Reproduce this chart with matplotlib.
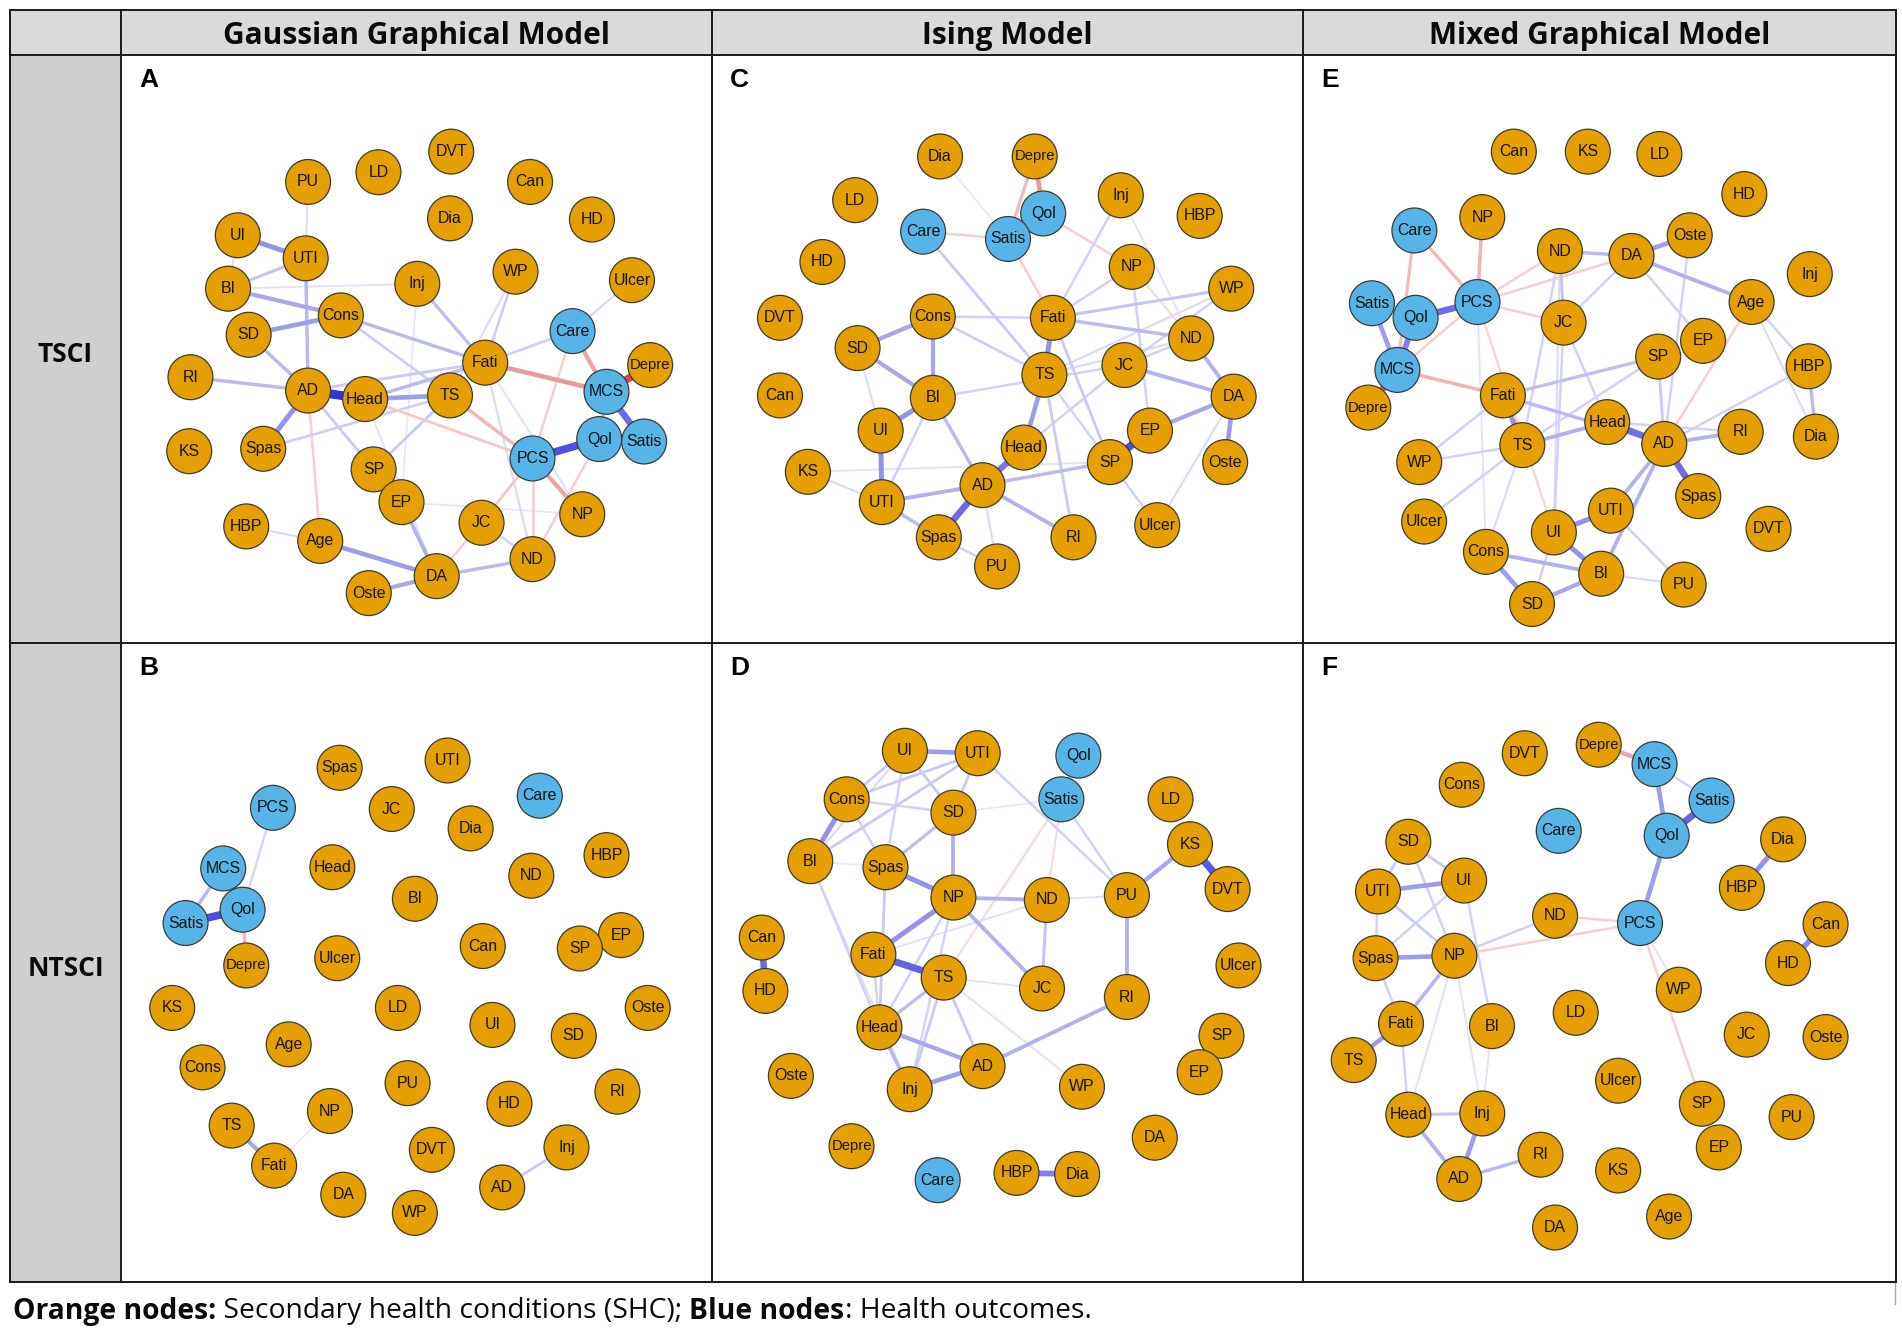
import matplotlib
matplotlib.use('Agg')
import matplotlib.pyplot as plt
import matplotlib.colors as mcolors
from matplotlib.patches import Circle, Rectangle
from matplotlib.textpath import TextPath
from matplotlib.font_manager import FontProperties

# ---- data: node layouts (reference pixel space) and edge weights ----
outcomes = ['Care', 'MCS', 'PCS', 'Qol', 'Satis']

col_titles = ['Gaussian Graphical Model', 'Ising Model', 'Mixed Graphical Model']
row_titles = ['TSCI', 'NTSCI']
panel_letters = ['A', 'C', 'E', 'B', 'D', 'F']

names_a = ['PU', 'LD', 'DVT', 'Can', 'Dia', 'HD', 'UI', 'UTI', 'BI', 'Inj', 'WP', 'Ulcer',
           'SD', 'Cons', 'Care', 'RI', 'Fati', 'Depre', 'AD', 'Head', 'TS', 'MCS', 'KS', 'Spas',
           'Qol', 'Satis', 'PCS', 'SP', 'EP', 'JC', 'NP', 'HBP', 'Age', 'DA', 'ND', 'Oste']
x_a = [254, 312, 372, 437, 371, 488, 196, 252, 188, 344, 425, 521,
       205, 281, 472, 157, 400, 536, 254, 301, 371, 500, 156, 217,
       494, 531, 439, 308, 331, 397, 480, 203, 264, 360, 439, 304]
y_a = [150, 142, 125, 150, 180, 181, 194, 213, 238, 234, 224, 231,
       276, 260, 273, 311, 299, 301, 322, 329, 326, 323, 372, 370,
       362, 364, 378, 387, 414, 431, 424, 434, 446, 475, 461, 489]
edges_a = [
    ('AD', 'Head', 1.0), ('PCS', 'Qol', 0.85), ('MCS', 'Satis', 0.7), ('MCS', 'Depre', -0.85),
    ('UI', 'UTI', 0.5), ('AD', 'Spas', 0.5), ('SD', 'Cons', 0.45), ('BI', 'Cons', 0.4),
    ('Head', 'TS', 0.45), ('Fati', 'MCS', -0.45), ('MCS', 'Care', -0.4), ('PCS', 'NP', -0.4),
    ('TS', 'PCS', -0.3), ('Age', 'DA', 0.45), ('Oste', 'DA', 0.4), ('DA', 'EP', 0.35),
    ('DA', 'ND', 0.3), ('RI', 'AD', 0.3), ('SD', 'AD', 0.3), ('UTI', 'AD', 0.3),
    ('PU', 'UTI', 0.12), ('BI', 'UTI', 0.25), ('UI', 'BI', 0.12), ('BI', 'Inj', 0.1),
    ('Cons', 'Fati', 0.3), ('Cons', 'TS', 0.2), ('Inj', 'Fati', 0.28), ('WP', 'Fati', 0.2),
    ('WP', 'TS', 0.12), ('Ulcer', 'Care', 0.15), ('Care', 'Fati', 0.2), ('Care', 'PCS', -0.18),
    ('Head', 'Fati', 0.3), ('AD', 'Fati', 0.22), ('Spas', 'TS', 0.2), ('AD', 'SP', 0.22),
    ('TS', 'SP', 0.22), ('Head', 'PCS', -0.22), ('AD', 'Age', -0.18), ('HBP', 'Age', 0.13),
    ('JC', 'PCS', -0.22), ('DA', 'JC', -0.18), ('ND', 'PCS', -0.18), ('ND', 'Qol', -0.18),
    ('ND', 'JC', 0.18), ('Fati', 'ND', 0.13), ('Fati', 'NP', 0.1), ('Inj', 'EP', 0.08),
    ('Head', 'DA', 0.1), ('EP', 'NP', 0.08), ('MCS', 'Qol', 0.3), ('Qol', 'Satis', 0.3),
]

names_c = ['Dia', 'Depre', 'LD', 'Qol', 'Inj', 'HBP', 'Care', 'Satis', 'HD', 'NP', 'WP',
           'DVT', 'Cons', 'Fati', 'ND', 'SD', 'JC', 'TS', 'Can', 'BI', 'DA', 'UI', 'EP',
           'Head', 'Oste', 'KS', 'SP', 'AD', 'UTI', 'Ulcer', 'Spas', 'RI', 'PU']
x_c = [775, 853, 705, 860, 924, 989, 761, 831, 678, 933, 1015,
       643, 769, 868, 982, 707, 927, 861, 643, 769, 1017, 726, 948,
       844, 1010, 666, 915, 810, 727, 954, 774, 885, 822]
y_c = [129, 129, 165, 176, 161, 178, 191, 197, 216, 220, 238,
       262, 261, 262, 279, 287, 301, 309, 326, 328, 327, 355, 355,
       369, 381, 389, 381, 400, 414, 433, 443, 443, 467]
edges_c = [
    ('AD', 'Spas', 0.7), ('AD', 'Head', 0.65), ('SP', 'EP', 0.85), ('UI', 'UTI', 0.5),
    ('UI', 'BI', 0.5), ('Fati', 'TS', 0.5), ('TS', 'Head', 0.45), ('SD', 'Cons', 0.4),
    ('SD', 'BI', 0.4), ('Cons', 'BI', 0.4), ('EP', 'DA', 0.4), ('DA', 'Oste', 0.45),
    ('ND', 'DA', 0.35), ('JC', 'DA', 0.35), ('Fati', 'ND', 0.3), ('Fati', 'WP', 0.25),
    ('Fati', 'Cons', 0.18), ('UTI', 'AD', 0.35), ('UTI', 'Spas', 0.3), ('AD', 'RI', 0.35),
    ('BI', 'AD', 0.3), ('AD', 'SP', 0.3), ('BI', 'JC', 0.18), ('Cons', 'TS', 0.2),
    ('Care', 'TS', 0.22), ('Care', 'Satis', -0.18), ('Depre', 'Qol', -0.45),
    ('Depre', 'Satis', -0.28), ('Satis', 'Fati', -0.18), ('Qol', 'NP', -0.18), ('NP', 'ND', -0.13),
    ('Inj', 'Fati', 0.18), ('NP', 'Fati', 0.18), ('NP', 'EP', 0.18), ('Fati', 'SP', 0.22),
    ('TS', 'RI', 0.22), ('TS', 'SP', 0.18), ('SP', 'Ulcer', 0.18), ('JC', 'Head', 0.18),
    ('UI', 'SD', 0.13), ('KS', 'UTI', 0.13), ('KS', 'SP', 0.1), ('UTI', 'BI', 0.18),
    ('Spas', 'PU', 0.18), ('AD', 'PU', 0.13), ('Ulcer', 'DA', 0.13), ('WP', 'JC', 0.18),
    ('WP', 'TS', 0.13), ('ND', 'JC', 0.18), ('ND', 'TS', 0.13), ('Qol', 'Satis', 0.2),
    ('Dia', 'Satis', 0.07), ('Inj', 'ND', 0.1),
]

names_e = ['Can', 'KS', 'LD', 'HD', 'NP', 'Care', 'ND', 'DA', 'Oste', 'Inj', 'Satis', 'PCS',
           'Qol', 'JC', 'Age', 'EP', 'SP', 'MCS', 'HBP', 'Depre', 'Fati', 'Head', 'RI', 'Dia',
           'TS', 'AD', 'WP', 'Spas', 'UTI', 'Ulcer', 'DVT', 'UI', 'Cons', 'BI', 'PU', 'SD']
x_e = [1248, 1309, 1368, 1438, 1222, 1166, 1286, 1345, 1393, 1492, 1131, 1218,
       1167, 1289, 1444, 1404, 1367, 1152, 1491, 1128, 1239, 1325, 1435, 1497,
       1255, 1372, 1170, 1400, 1328, 1174, 1458, 1281, 1225, 1320, 1388, 1263]
y_e = [125, 125, 127, 160, 179, 190, 207, 211, 194, 226, 250, 249,
       262, 266, 249, 281, 294, 305, 302, 336, 326, 348, 356, 360,
       367, 366, 381, 409, 421, 430, 436, 439, 455, 473, 482, 498]
edges_e = [
    ('Qol', 'PCS', 0.7), ('Qol', 'MCS', 0.6), ('Satis', 'MCS', 0.45), ('Satis', 'Qol', 0.3),
    ('MCS', 'Depre', -0.75), ('Head', 'AD', 0.7), ('AD', 'Spas', 0.7), ('UI', 'UTI', 0.5),
    ('UI', 'BI', 0.5), ('Cons', 'SD', 0.45), ('SD', 'BI', 0.4), ('Cons', 'BI', 0.35),
    ('Fati', 'TS', 0.5), ('DA', 'Oste', 0.45), ('ND', 'DA', 0.3), ('DA', 'Age', 0.35),
    ('Head', 'TS', 0.35), ('AD', 'RI', 0.35), ('Fati', 'AD', 0.3), ('Fati', 'SP', 0.28),
    ('MCS', 'Fati', -0.32), ('Care', 'MCS', -0.28), ('Care', 'PCS', -0.28), ('NP', 'PCS', -0.32),
    ('PCS', 'ND', -0.18), ('PCS', 'DA', -0.18), ('PCS', 'JC', -0.18), ('PCS', 'MCS', -0.18),
    ('PCS', 'UI', -0.16), ('PCS', 'Cons', 0.1), ('ND', 'JC', 0.25), ('ND', 'TS', 0.18),
    ('ND', 'UI', 0.13), ('JC', 'Head', 0.18), ('JC', 'UI', 0.18), ('DA', 'JC', 0.18),
    ('DA', 'EP', 0.18), ('Oste', 'AD', 0.18), ('Age', 'HBP', 0.18), ('Age', 'AD', -0.18),
    ('Age', 'Dia', 0.13), ('HBP', 'Dia', 0.3), ('HBP', 'AD', 0.18), ('SP', 'AD', 0.22),
    ('RI', 'Head', 0.18), ('TS', 'WP', 0.18), ('Fati', 'WP', 0.18), ('TS', 'Ulcer', 0.18),
    ('TS', 'SP', 0.18), ('UTI', 'AD', 0.35), ('BI', 'AD', 0.35), ('UTI', 'PU', 0.18),
    ('BI', 'PU', 0.13), ('UI', 'SD', 0.18), ('TS', 'Cons', 0.13),
]

names_b = ['Spas', 'UTI', 'Care', 'PCS', 'JC', 'Dia', 'HBP', 'Head', 'MCS', 'ND', 'BI', 'Qol',
           'Satis', 'EP', 'Can', 'SP', 'Ulcer', 'Depre', 'KS', 'LD', 'Oste', 'UI', 'SD', 'Age',
           'Cons', 'PU', 'RI', 'HD', 'NP', 'TS', 'DVT', 'Inj', 'Fati', 'AD', 'DA', 'WP']
x_b = [280, 369, 445, 225, 323, 388, 500, 274, 184, 438, 342, 200,
       153, 512, 398, 478, 278, 203, 142, 328, 534, 406, 473, 238,
       167, 336, 509, 420, 272, 191, 356, 467, 226, 414, 283, 342]
y_b = [633, 627, 656, 666, 667, 683, 705, 715, 716, 722, 741, 750,
       761, 771, 780, 782, 790, 796, 831, 831, 831, 845, 854, 861,
       880, 893, 900, 910, 916, 928, 948, 946, 961, 979, 985, 1000]
edges_b = [
    ('Satis', 'Qol', 0.85), ('Satis', 'MCS', 0.3), ('Qol', 'PCS', 0.16), ('Qol', 'Depre', -0.3),
    ('TS', 'Fati', 0.4), ('Fati', 'NP', 0.07), ('AD', 'Inj', 0.22),
]

names_d = ['UI', 'UTI', 'Qol', 'Cons', 'Satis', 'LD', 'SD', 'KS', 'BI', 'Spas', 'DVT', 'NP',
           'ND', 'PU', 'Can', 'Ulcer', 'Fati', 'TS', 'JC', 'HD', 'RI', 'Head', 'SP', 'AD',
           'Oste', 'EP', 'WP', 'Inj', 'DA', 'Depre', 'Care', 'HBP', 'Dia']
x_d = [746, 806, 889, 698, 875, 965, 786, 981, 668, 730, 1012, 786,
       863, 929, 628, 1021, 720, 778, 859, 631, 929, 725, 1007, 810,
       652, 989, 892, 750, 952, 702, 773, 838, 888]
y_d = [619, 621, 623, 659, 659, 659, 670, 696, 710, 715, 733, 740,
       742, 738, 773, 796, 787, 806, 815, 817, 822, 847, 854, 879,
       887, 884, 896, 898, 938, 945, 973, 967, 968]
edges_d = [
    ('Fati', 'TS', 0.75), ('KS', 'DVT', 0.8), ('HBP', 'Dia', 0.6), ('Can', 'HD', 0.7),
    ('Fati', 'NP', 0.5), ('Spas', 'NP', 0.5), ('Cons', 'BI', 0.5), ('UI', 'UTI', 0.45),
    ('Inj', 'AD', 0.45), ('Head', 'AD', 0.4), ('AD', 'RI', 0.35), ('PU', 'KS', 0.4),
    ('PU', 'RI', 0.35), ('NP', 'ND', 0.35), ('SD', 'NP', 0.35), ('NP', 'JC', 0.35),
    ('ND', 'JC', 0.25), ('Satis', 'PU', 0.18), ('UTI', 'PU', 0.18), ('Satis', 'Qol', 0.2),
    ('Satis', 'ND', -0.13), ('Satis', 'TS', -0.13), ('Satis', 'SD', 0.07), ('Cons', 'UI', 0.22),
    ('Cons', 'UTI', 0.22), ('Cons', 'SD', 0.18), ('BI', 'UTI', 0.22), ('BI', 'UI', 0.13),
    ('UI', 'SD', 0.22), ('UI', 'Spas', 0.18), ('UTI', 'SD', 0.22), ('SD', 'Spas', 0.28),
    ('Cons', 'Spas', 0.18), ('BI', 'Head', 0.18), ('BI', 'Spas', 0.07), ('Spas', 'Head', 0.22),
    ('Head', 'TS', 0.28), ('Head', 'Inj', 0.32), ('TS', 'Inj', 0.22), ('TS', 'AD', 0.22),
    ('NP', 'Inj', 0.18), ('NP', 'Head', 0.18), ('TS', 'WP', 0.1), ('TS', 'JC', 0.1),
    ('Fati', 'Head', 0.18), ('Fati', 'ND', 0.1), ('ND', 'PU', 0.1), ('BI', 'Inj', 0.12),
]

names_f = ['Depre', 'DVT', 'MCS', 'Cons', 'Satis', 'Care', 'Qol', 'Dia', 'SD', 'UI', 'UTI',
           'HBP', 'ND', 'PCS', 'Can', 'Spas', 'NP', 'HD', 'WP', 'Fati', 'BI', 'LD', 'JC',
           'Oste', 'TS', 'Ulcer', 'SP', 'Head', 'Inj', 'PU', 'EP', 'RI', 'KS', 'AD', 'Age', 'DA']
x_f = [1318, 1257, 1364, 1205, 1411, 1285, 1374, 1470, 1161, 1207, 1136,
       1436, 1282, 1352, 1505, 1134, 1199, 1474, 1384, 1155, 1230, 1299, 1440,
       1505, 1116, 1334, 1403, 1161, 1222, 1477, 1417, 1270, 1334, 1203, 1376, 1282]
y_f = [614, 621, 630, 647, 660, 685, 689, 692, 694, 726, 735,
       732, 755, 761, 762, 790, 788, 794, 816, 844, 846, 835, 853,
       855, 874, 891, 910, 919, 918, 921, 946, 952, 965, 972, 1003, 1012]
edges_f = [
    ('Satis', 'Qol', 0.75), ('Qol', 'MCS', 0.45), ('Qol', 'PCS', 0.45), ('MCS', 'Satis', 0.18),
    ('Depre', 'MCS', -0.4), ('Dia', 'HBP', 0.5), ('Can', 'HD', 0.55), ('Fati', 'TS', 0.45),
    ('UTI', 'UI', 0.45), ('Spas', 'NP', 0.45), ('Inj', 'AD', 0.45), ('Head', 'AD', 0.35),
    ('AD', 'RI', 0.3), ('Head', 'Inj', 0.25), ('NP', 'Fati', 0.32), ('SD', 'UI', 0.22),
    ('SD', 'UTI', 0.22), ('SD', 'NP', 0.18), ('UTI', 'NP', 0.22), ('UI', 'Spas', 0.18),
    ('UI', 'BI', 0.18), ('UTI', 'Spas', 0.18), ('Spas', 'Fati', 0.18), ('Fati', 'Head', 0.18),
    ('NP', 'Head', 0.1), ('NP', 'Inj', 0.1), ('BI', 'Inj', 0.1), ('NP', 'ND', 0.18),
    ('NP', 'PCS', -0.18), ('ND', 'PCS', -0.18), ('PCS', 'SP', -0.18), ('PCS', 'WP', 0.1),
]

# ---- layout of the table (reference pixel space) ----
W, H = 1568, 1099
left, top, right, bottom = 8, 8, 1563, 1057
col_x = [100, 587, 1074]
row_y = [45, 530]
node_r = 18.5

ORANGE = '#E69F00'
BLUE = '#56B4E9'
POS = '#3232dc'
NEG = '#d22c2c'

label_fp = FontProperties(family='Liberation Sans')


def blend(c, a):
    r, g, b = mcolors.to_rgb(c)
    return (1 - a * (1 - r), 1 - a * (1 - g), 1 - a * (1 - b))


def label_size(s, base=11.4, max_w=27.5):
    w = TextPath((0, 0), s, size=base, prop=label_fp).get_extents().width
    return min(base, base * max_w / w)


def draw_network(ax, names, xs, ys, edges):
    pos = {n: (x, y) for n, x, y in zip(names, xs, ys)}
    for a, b, w in sorted(edges, key=lambda e: abs(e[2])):
        s = abs(w)
        col = blend(POS if w > 0 else NEG, 0.05 + 0.95 * s)
        ax.plot([pos[a][0], pos[b][0]], [pos[a][1], pos[b][1]],
                color=col, lw=0.8 + 5.6 * s, solid_capstyle='butt', zorder=2)
    for n in names:
        x, y = pos[n]
        fc = BLUE if n in outcomes else ORANGE
        ax.add_patch(Circle((x, y), node_r, facecolor=fc, edgecolor='#3c3c32',
                            lw=0.9, zorder=3))
        ax.text(x, y, n, ha='center', va='center', fontsize=label_size(n),
                family='Liberation Sans', color='#141414', zorder=4)


fig = plt.figure(figsize=(19.02, 13.33), dpi=100)
ax = fig.add_axes([0, 0, 1, 1])
ax.set_xlim(0, W)
ax.set_ylim(H, 0)
ax.axis('off')

# shaded header row and label column
ax.add_patch(Rectangle((left, top), right - left, row_y[0] - top, facecolor='#dadada',
                       edgecolor='none', zorder=0))
ax.add_patch(Rectangle((left, row_y[0]), col_x[0] - left, bottom - row_y[0],
                       facecolor='#cfcfcf', edgecolor='none', zorder=0))

# grid lines
for x in [left] + col_x + [right]:
    ax.plot([x, x], [top, bottom], color='#1a1a1a', lw=1.4, zorder=5)
for y in [top] + row_y + [bottom]:
    ax.plot([left, right], [y, y], color='#1a1a1a', lw=1.4, zorder=5)
ax.plot([1562, 1562], [bottom, 1075], color='#aaaaaa', lw=1.0)

col_edges = col_x + [right]
for i, t in enumerate(col_titles):
    ax.text((col_edges[i] + col_edges[i + 1]) / 2, 29.5, t, ha='center', va='center',
            fontsize=21.5, fontweight='bold', family='Open Sans', color='#0a0a0a')

row_edges = row_y + [bottom]
for i, t in enumerate(row_titles):
    ax.text((left + col_x[0]) / 2, (row_edges[i] + row_edges[i + 1]) / 2 + 5, t,
            ha='center', va='center', fontsize=19, fontweight='bold', family='Open Sans',
            color='#0a0a0a')

panels = [(names_a, x_a, y_a, edges_a), (names_c, x_c, y_c, edges_c),
          (names_e, x_e, y_e, edges_e), (names_b, x_b, y_b, edges_b),
          (names_d, x_d, y_d, edges_d), (names_f, x_f, y_f, edges_f)]
for k, (nm, xs, ys, ed) in enumerate(panels):
    ci, ri = k % 3, k // 3
    ax.text(col_edges[ci] + 15, row_edges[ri] + 21, panel_letters[k], ha='left',
            va='center', fontsize=19, fontweight='bold', family='Liberation Sans',
            color='#000000')
    draw_network(ax, nm, xs, ys, ed)

# caption with mixed bold / regular runs
pieces = [('Orange nodes:', 'bold'), (' Secondary health conditions (SHC); ', 'normal'),
          ('Blue nodes', 'bold'), (': Health outcomes.', 'normal')]
renderer = fig.canvas.get_renderer()
cx = 10.5
px_to_data = W / 1902.0
for txt, wt in pieces:
    t = ax.text(cx, 1081, txt, ha='left', va='center', fontsize=20.3, fontweight=wt,
                family='Open Sans', color='#0a0a0a')
    cx += t.get_window_extent(renderer=renderer).width * px_to_data

fig.savefig('out.png', dpi=100)
